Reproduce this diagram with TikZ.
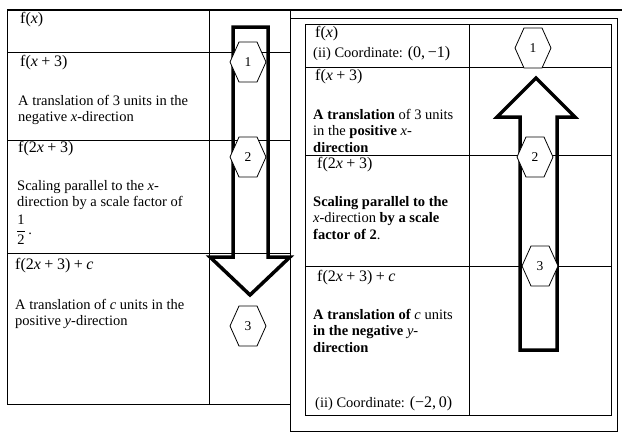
\documentclass[tikz,border=0pt]{standalone}
\usepackage{fontspec}
\setmainfont{Liberation Serif}
\tikzset{
  rule/.style={line width=0.8pt},
  topline/.style={line width=1.8pt},
  txt/.style={anchor=north west, inner sep=0pt, align=left, font=\fontsize{14.5}{16.5}\selectfont},
  fn/.style={anchor=north west, inner sep=0pt, font=\fontsize{16}{18}\selectfont},
  bigarr/.style={line width=3.5pt, line join=miter},
  hexline/.style={draw, line width=0.8pt, fill=white},
  hexnum/.style={inner sep=0pt, minimum width=36pt, minimum height=40pt, font=\fontsize{13.5}{15}\selectfont},
}
\newcommand{\splus}{\hspace{0.22em}+\hspace{0.22em}}
\newcommand{\vx}{\textit{x}}

\begin{document}
\begin{tikzpicture}[x=1pt, y=-1pt]
    \path[use as bounding box, fill=white] (0,0) rectangle (622,437);

    % left table
    \draw[topline] (7,10) -- (622,10);
    \draw[rule] (7,10) rectangle (290,404);
    \draw[rule] (209,10) -- (209,404);
    \foreach \y in {52,140,253}
      \draw[rule] (7,\y) -- (290,\y);

    % right table, double frame
    \draw[rule] (290,18) rectangle (617,431);
    \draw[rule] (305,24) rectangle (611,415);
    \draw[rule] (469,24) -- (469,415);
    \foreach \y in {67,155,266}
      \draw[rule] (305,\y) -- (611,\y);

    % big arrows
    \draw[bigarr] (233,27) -- (268,27) -- (268,257) -- (290,257) -- (250,295)
      -- (210,257) -- (233,257) -- cycle;
    \draw[bigarr] (520,350) -- (520,117) -- (497,117) -- (536,78) -- (575,117)
      -- (557,117) -- (557,350) -- cycle;

    % step numbers in hexagons
    \foreach \h/\x/\y/\k in {lh1/248/62/1, lh2/248/157/2, lh3/248/326/3,
                             rh1/533/48/1, rh2/535/157/2, rh3/540/266/3}{
      \draw[hexline] (\x-18,\y) -- ++(9,-20) -- ++(18,0) -- ++(9,20)
        -- ++(-9,20) -- ++(-18,0) -- cycle;
      \node[hexnum] (\h) at (\x,\y) {\k};
    }

    % left column texts
    \node[fn] (lf0) at (20,12) {f(\vx)};
    \node[fn] (lf1) at (20,55) {f(\vx\splus3)};
    \node[txt] (ld1) at (18,95) {A translation of 3 units in the\\negative \vx-direction};
    \node[fn] (lf2) at (18,141) {f(2\vx\splus3)};
    \node[txt] (ld2) at (17,180) {Scaling parallel to the \vx-\\direction by a scale factor of};
    \node[anchor=west, inner sep=0pt, font=\fontsize{14.5}{16.5}\selectfont] (lhalf) at (16,230)
      {$\displaystyle\frac{\textup{1}}{\textup{2}}$\,.};
    \node[fn] (lf3) at (15,258) {f(2\vx\splus3)\splus\textit{c}};
    \node[txt] (ld3) at (15,299) {A translation of \textit{c} units in the\\positive \textit{y}-direction};

    % right column texts
    \node[fn] (rf0) at (315,26) {f(\vx)};
    \node[txt] (rc0) at (313,46) {(ii) Coordinate: {\fontsize{16}{18}\selectfont(0,\,−1)}};
    \node[fn] (rf1) at (315,69) {f(\vx\splus3)};
    \node[txt] (rd1) at (313,109) {\textbf{A translation} of 3 units\\in the \textbf{positive} \vx-\\\textbf{direction}};
    \node[fn] (rf2) at (317,157) {f(2\vx\splus3)};
    \node[txt] (rd2) at (313,196) {\textbf{Scaling parallel to the}\\\vx-direction \textbf{by a scale}\\\textbf{factor of 2}.};
    \node[fn] (rf3) at (317,270) {f(2\vx\splus3)\splus\textit{c}};
    \node[txt] (rd3) at (313,309) {\textbf{A translation of} \textit{c} units\\\textbf{in the negative} \textit{y}-\\\textbf{direction}};
    \node[txt] (rc3) at (315,396) {(ii) Coordinate: {\fontsize{16}{18}\selectfont(−2,\,0)}};
  \end{tikzpicture}
\end{document}
